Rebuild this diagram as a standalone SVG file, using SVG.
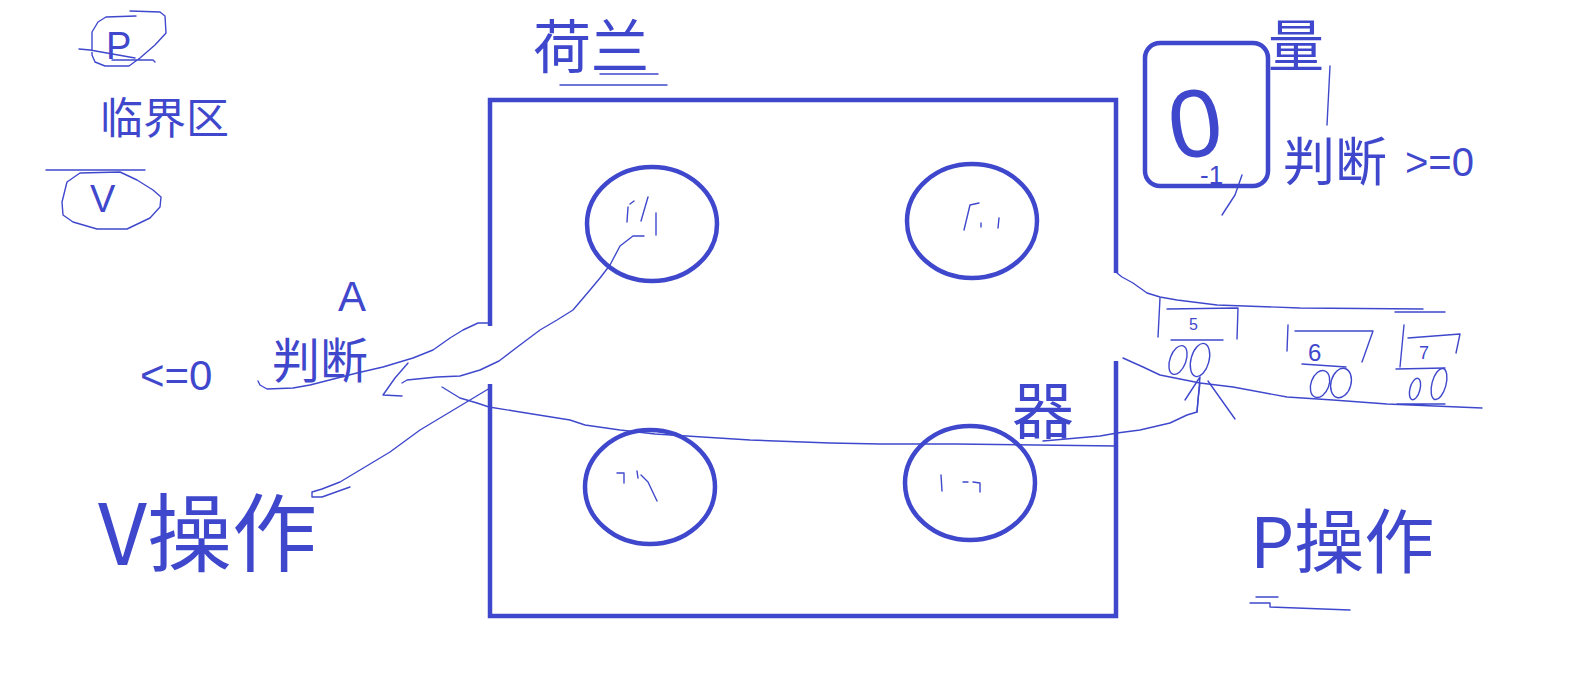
<svg xmlns="http://www.w3.org/2000/svg" width="1571" height="687" viewBox="0 0 1571 687">
<style>
.thick{fill:none;stroke:#3F48CC;stroke-width:4.5}
.thin{fill:none;stroke:#3F48CC;stroke-width:1.4;stroke-linejoin:round;stroke-linecap:round}
.t{fill:#3F48CC;font-family:"Liberation Sans","Noto Sans CJK SC",sans-serif}
.c{fill:#3F48CC;font-family:"Noto Sans CJK SC","Liberation Sans",sans-serif}
</style>
<rect width="1571" height="687" fill="#ffffff"/>

<g id="box">
<path class="thick" d="M490,326 L490,100 L1116,100 L1116,273 M1116,361 L1116,616 L490,616 L490,384"/>
</g>
<g id="p1"><ellipse class="thick" cx="652" cy="224" rx="65" ry="57"/>
<path class="thin" d="M628,207 L627,222 M630,204 L634,201 M648,197 L641,221 M656,213 L656,235"/></g>
<g id="p2"><ellipse class="thick" cx="972" cy="221" rx="65" ry="57"/>
<path class="thin" d="M964,230 L970,205 L979,203 M981,223 L981,227 M999,218 L998,228"/></g>
<g id="p3"><ellipse class="thick" cx="650" cy="487" rx="65" ry="57"/>
<path class="thin" d="M617,473 L624,473 L624,483 M637,471 L638,478 M641,475 L648,482 L657,501"/></g>
<g id="p4"><ellipse class="thick" cx="970" cy="483" rx="65" ry="57"/>
<path class="thin" d="M941,475 L942,491 M963,482 L968,482 M973,482 L980,483 L980,492"/></g>

<g id="semaphore">
<rect class="thick" x="1145" y="43" width="123" height="143" rx="15"/>
<text class="t" x="1168" y="156" font-size="96" transform="rotate(-8 1200 120)">0</text>
<text class="t" x="1200" y="184" font-size="26">-1</text>
<path class="thin" d="M1242,175 L1235,195 L1222,215"/>
</g>

<g id="label-pv">
<path class="thin" d="M130,11 L160,12 L165,16 L166,33 L155,45 L140,58 L129,66 L105,66 L95,62 L92,55 L92,32 L98,22 L106,17 L136,16 M79,49 L90,50 L135,58 M112,60 L153,60 L155,62"/>
<text class="t" x="106" y="59" font-size="38">P</text>
<text class="c" x="100" y="134" font-size="43">临界区</text>
<path class="thin" d="M46,170 L145,170 M80,173 L67,182 L62,202 L63,215 L73,222 L97,229 L127,229 L150,218 L160,207 L161,197 L153,190 L137,180 L120,172 Z"/>
<text class="t" x="90" y="212" font-size="38">V</text>
</g>

<g id="title">
<text class="c" x="533" y="68" font-size="58">荷兰</text>
<path class="thin" d="M600,74 L658,74 M560,85 L667,85"/>
</g>

<g id="label-right">
<text class="c" x="1268" y="66" font-size="56">量</text>
<path class="thin" d="M1330,66 L1327,125"/>
<text class="c" x="1283" y="181" font-size="52">判断</text>
<text class="t" x="1405" y="176" font-size="40">&gt;=0</text>
</g>

<g id="label-left">
<text class="t" x="338" y="311" font-size="42">A</text>
<text class="c" x="272" y="378" font-size="48">判断</text>
<text class="t" x="140" y="390" font-size="42">&lt;=0</text>
</g>

<g id="label-v">
<text class="c" x="98" y="565" font-size="85">V操作</text>
</g>

<g id="label-p">
<text class="c" x="1250" y="568" font-size="70">P操作</text>
<path class="thin" d="M1256,597 L1278,597 M1250,603 L1270,603 L1270,607 L1350,610"/>
</g>

<g id="label-wake">
<text class="c" x="1012" y="434" font-size="62">器</text>
</g>

<g id="queue">
<g id="cart5">
<path class="thin" d="M1160,298 L1158,337 M1167,309 L1238,308 L1237,339 M1171,340 L1223,340"/>
<text class="t" x="1189" y="330" font-size="16">5</text>
<ellipse class="thin" cx="1178" cy="360" rx="8" ry="15" transform="rotate(20 1178 360)"/>
<ellipse class="thin" cx="1200" cy="360" rx="9" ry="17" transform="rotate(15 1200 360)"/>
<path class="thin" d="M1200,377 L1185,400 M1200,377 L1197,412 M1208,381 L1235,419"/>
</g>
<g id="cart6">
<path class="thin" d="M1288,325 L1287,351 M1295,331 L1373,331 L1362,362 M1302,364 L1346,367"/>
<text class="t" x="1308" y="361" font-size="24">6</text>
<ellipse class="thin" cx="1320" cy="384" rx="9" ry="14" transform="rotate(20 1320 384)"/>
<ellipse class="thin" cx="1341" cy="383" rx="10" ry="15" transform="rotate(15 1341 383)"/>
</g>
<g id="cart7">
<path class="thin" d="M1404,325 L1400,367 M1408,338 L1460,334 L1456,353 M1396,369 L1445,368"/>
<text class="t" x="1419" y="359" font-size="18">7</text>
<ellipse class="thin" cx="1415" cy="389" rx="5" ry="11" transform="rotate(15 1415 389)"/>
<ellipse class="thin" cx="1439" cy="384" rx="7" ry="16" transform="rotate(15 1439 384)"/>
</g>
</g>

<g id="connectors">
<path class="thin" d="M1117,273 L1122,277 L1133,283 L1147,293 L1160,297 L1177,300 L1217,305 L1300,308 L1423,309 M1395,312 L1445,312"/>
<path class="thin" d="M1123,358 L1143,367 L1160,375 L1200,383 L1233,387 L1287,397 L1333,400 L1387,404 L1482,408 M1397,404 L1445,404"/>
<path class="thin" d="M490,323 L478,323 L463,330 L450,338 L433,350 L413,358 L383,367 L357,373 L310,385 L293,388 L267,389 L260,385 L258,381"/>
<path class="thin" d="M644,236 L633,236 L620,246 L610,265 L600,278 L590,290 L573,310 L557,320 L540,330 L520,345 L499,361 L480,370 L460,376 L437,377 L407,380 L402,383"/>
<path class="thin" d="M408,363 L395,378 L383,395 L402,396"/>
<path class="thin" d="M490,388 L470,400 L450,412 L420,430 L390,452 L360,470 L340,482 L322,489 L312,492 L312,497 L322,497 L350,487"/>
<path class="thin" d="M442,387 L460,398 L477,403 L489,407 L520,412 L570,420 L585,425 L620,430 L655,434 L750,440 L830,443 L880,444 L955,444 L1117,446"/>
<path class="thin" d="M1043,441 L1100,436 L1117,433 L1140,430 L1170,423 L1187,415 L1197,412 L1198,400 L1200,383"/>
</g>
</svg>
